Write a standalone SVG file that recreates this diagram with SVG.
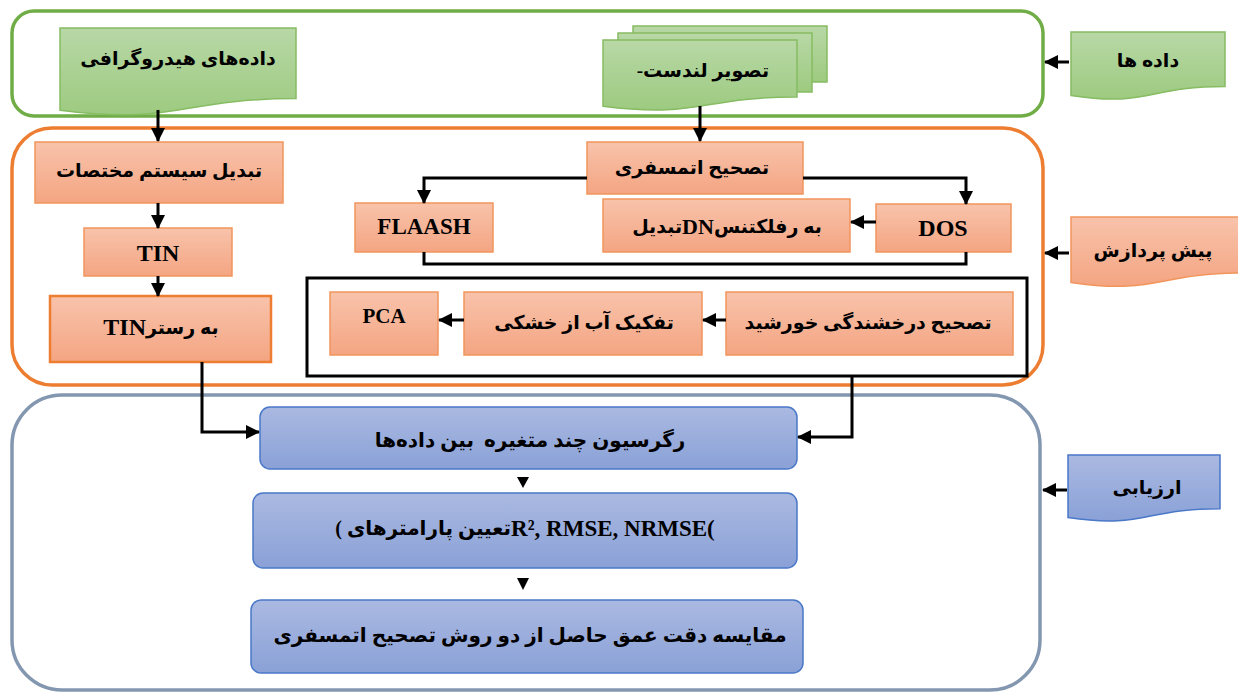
<svg xmlns="http://www.w3.org/2000/svg" width="1238" height="692" viewBox="0 0 1238 692">
<style>
  .cont{fill:none;stroke-width:3.5}
  .gdoc{fill:url(#gG);stroke:#86BC62;stroke-width:1.5}
  .obox{fill:url(#gO);stroke:#F1955C;stroke-width:1.5}
  .bbox{fill:url(#gB);stroke:#4A78C8;stroke-width:1.5}
  .fa{font-family:"Liberation Serif","DejaVu Sans",serif;font-weight:bold;font-size:19px;fill:#000;text-anchor:middle;dominant-baseline:central;white-space:pre}
  .fb{font-size:20px}
  .la{font-family:"Liberation Serif","DejaVu Sans",serif;font-weight:bold;font-size:24px;fill:#000;text-anchor:middle;dominant-baseline:central}
  .ln{fill:none;stroke:#000;stroke-width:3}
</style>
<defs>
  <linearGradient id="gG" x1="0" y1="0" x2="0" y2="1"><stop offset="0" stop-color="#B8D8A6"/><stop offset="1" stop-color="#9DCA80"/></linearGradient>
  <linearGradient id="gO" x1="0" y1="0" x2="0" y2="1"><stop offset="0" stop-color="#F8C3AB"/><stop offset="1" stop-color="#F4A582"/></linearGradient>
  <linearGradient id="gB" x1="0" y1="0" x2="0" y2="1"><stop offset="0" stop-color="#AAB9E1"/><stop offset="1" stop-color="#8AA1D7"/></linearGradient>
  <marker id="ah" markerUnits="userSpaceOnUse" markerWidth="14" markerHeight="14" viewBox="0 0 14 14" refX="13" refY="7" orient="auto">
    <path d="M0,0 L14,7 L0,14 Z" fill="#000"/>
  </marker>
</defs>

<!-- containers -->
<g id="data-container"><rect class="cont" x="12" y="11" width="1031" height="105" rx="22" stroke="#70AD47"/></g>
<g id="prep-container"><rect class="cont" x="12" y="128" width="1031" height="257" rx="40" stroke="#ED7D31"/></g>
<g id="eval-container"><rect class="cont" x="12" y="395" width="1028" height="295" rx="50" stroke="#8497B0"/></g>

<!-- data -->
<g id="hydro">
  <path class="gdoc" d="M60,28 H296 V98.6 C178,98.6 178,125.4 60,110.2 Z"/>
  <text class="fa" x="178" y="58">داده‌های هیدروگرافی</text>
</g>
<g id="landsat">
  <rect class="gdoc" x="633" y="26" width="194" height="56"/>
  <rect class="gdoc" x="618" y="33" width="194" height="59"/>
  <path class="gdoc" d="M603,40 H797 V97 C700,97 700,118.6 603,106.3 Z"/>
  <text class="fa" x="703" y="70">-تصویر لندست</text>
</g>
<g id="label-data">
  <path class="gdoc" d="M1071,32 H1225 V86.5 C1148,86.5 1148,107.3 1071,95.5 Z"/>
  <text class="fa" x="1148" y="60">داده ها</text>
</g>

<!-- preprocessing -->
<g id="coord"><rect class="obox" x="35" y="142" width="248" height="61"/><text class="fa" x="159" y="170">تبدیل سیستم مختصات</text></g>
<g id="tin"><rect class="obox" x="84" y="228" width="148" height="48"/><text class="la" x="158" y="253">TIN</text></g>
<g id="tin-raster"><rect class="obox" x="50" y="296" width="221" height="66" style="stroke:#ED7D31;stroke-width:2.5"/><text class="la" x="161" y="327">TIN<tspan style="font-size:19px">به رستر</tspan></text></g>
<g id="atm"><rect class="obox" x="587" y="142" width="216" height="52"/><text class="fa" x="692" y="167">تصحیح اتمسفری</text></g>
<g id="flaash"><rect class="obox" x="355" y="203" width="138" height="49"/><text class="la" x="424" y="226" style="font-size:23px">FLAASH</text></g>
<g id="dn"><rect class="obox" x="603" y="199" width="247" height="53"/><text class="fa" x="727" y="226">تبدیل<tspan style="font-size:22px">DN</tspan>به رفلکتنس</text></g>
<g id="dos"><rect class="obox" x="876" y="204" width="135" height="48"/><text class="la" x="943" y="228">DOS</text></g>
<g id="group-rect"><rect x="307" y="278" width="720" height="98" fill="none" stroke="#000" stroke-width="3"/></g>
<g id="pca"><rect class="obox" x="330" y="292" width="108" height="63"/><text class="la" x="384" y="316" style="font-size:21px">PCA</text></g>
<g id="water"><rect class="obox" x="464" y="292" width="238" height="63"/><text class="fa" x="584" y="322">تفکیک آب از خشکی</text></g>
<g id="sun"><rect class="obox" x="726" y="292" width="287" height="63"/><text class="fa" x="868" y="322">تصحیح درخشندگی خورشید</text></g>
<g id="label-prep">
  <path class="obox" d="M1071,217 H1243 V273 C1157,273 1157,295 1071,282.4 Z"/>
  <text class="fa" x="1153" y="250">پیش پردازش</text>
</g>

<!-- evaluation -->
<g id="regr"><rect class="bbox" x="260" y="407" width="537" height="62" rx="10"/><text class="fa fb" x="530" y="440">رگرسیون چند متغیره  بین داده‌ها</text></g>
<g id="params"><rect class="bbox" x="253" y="493" width="544" height="75" rx="10"/><text class="fa fb" x="525" y="528">( تعیین پارامترهای<tspan style="font-size:23px">R²<tspan>, RMSE, NRMSE(</tspan></tspan></text></g>
<g id="compare"><rect class="bbox" x="251" y="600" width="552" height="73" rx="10"/><text class="fa fb" x="530" y="635">مقایسه دقت عمق حاصل از دو روش تصحیح اتمسفری</text></g>
<g id="label-eval">
  <path class="bbox" d="M1068,455 H1220 V508.7 C1144,508.7 1144,529 1068,517.6 Z"/>
  <text class="fa" x="1147" y="487">ارزیابی</text>
</g>

<!-- connectors -->
<g id="connectors">
  <path class="ln" d="M158,110 V141" marker-end="url(#ah)"/>
  <path class="ln" d="M700,106 V141" marker-end="url(#ah)"/>
  <path class="ln" d="M1069,62 H1045" marker-end="url(#ah)"/>
  <path class="ln" d="M1069,253 H1045" marker-end="url(#ah)"/>
  <path class="ln" d="M1067,490 H1043" marker-end="url(#ah)"/>
  <path class="ln" d="M158,203 V228" marker-end="url(#ah)"/>
  <path class="ln" d="M158,276 V296" marker-end="url(#ah)"/>
  <path class="ln" d="M587,178 H424 V203" marker-end="url(#ah)"/>
  <path class="ln" d="M803,178 H966 V204" marker-end="url(#ah)"/>
  <path class="ln" d="M876,222 H851" marker-end="url(#ah)"/>
  <path class="ln" d="M424,252 V264 H966 V252"/>
  <path class="ln" d="M726,320 H703" marker-end="url(#ah)"/>
  <path class="ln" d="M464,320 H439" marker-end="url(#ah)"/>
  <path class="ln" d="M202,362 V432 H259" marker-end="url(#ah)"/>
  <path class="ln" d="M852,376 V437 H798" marker-end="url(#ah)"/>
  <path d="M517,477 H529 L523,488 Z" fill="#000"/>
  <path d="M517,578 H529 L523,590 Z" fill="#000"/>
</g>
</svg>
